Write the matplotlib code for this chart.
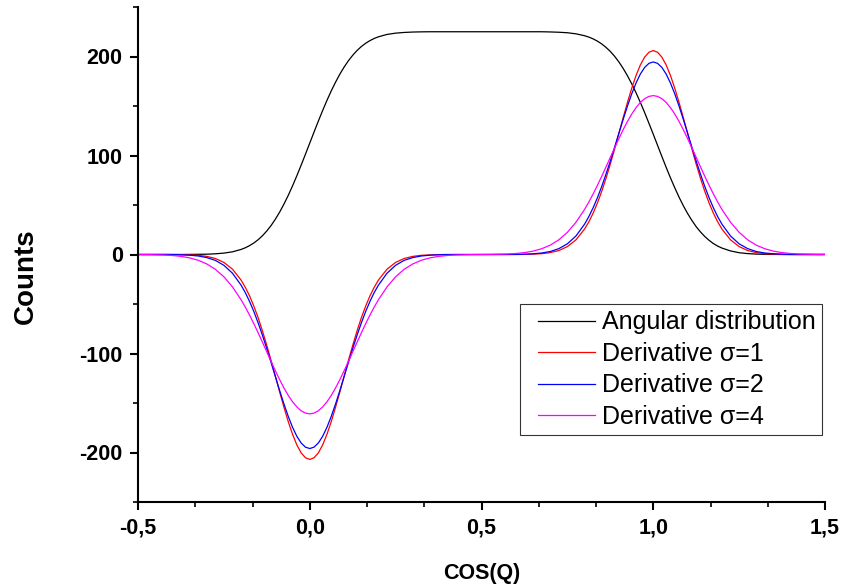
import numpy as np
import matplotlib
matplotlib.use("Agg")
import matplotlib.pyplot as plt
from matplotlib.ticker import MultipleLocator, FuncFormatter
from matplotlib.lines import Line2D
from matplotlib.legend_handler import HandlerLine2D

plt.rcParams['font.family'] = ['Liberation Sans', 'DejaVu Sans']
plt.rcParams['axes.unicode_minus'] = False

# sample positions along COS(Q): coarse outside the edges, finer across them
x = np.concatenate([
    np.linspace(-0.5, -0.225, 12),
    np.linspace(-0.2, 0.2, 33),
    np.linspace(0.225, 0.775, 23),
    np.linspace(0.8, 1.2, 33),
    np.linspace(1.225, 1.5, 12),
])

angular = [0, 0, 0, 0, 0, 0, 0.1, 0.2, 0.3, 0.7, 1.4, 2.7,
           5.1, 6.8, 9.0, 11.7, 15.0, 19.0, 23.8, 29.3, 35.7, 42.9, 51.0, 59.8,
           69.4, 79.6, 90.3, 101.3, 112.5, 123.7, 134.7, 145.4, 155.6, 165.2,
           174.0, 182.1, 189.3, 195.7, 201.2, 206.0, 210.0, 213.3, 216.0, 218.2, 219.9,
           222.3, 223.6, 224.3, 224.7, 224.9, 225, 225, 225, 225, 225, 225, 225,
           225, 225, 225, 225, 225, 225, 225, 224.8, 224.5, 224.0, 222.9,
           221.0, 219.6, 217.8, 215.5, 212.7, 209.2, 205.1, 200.2, 194.5, 187.9,
           180.5, 172.3, 163.3, 153.6, 143.3, 132.5, 121.5, 110.3, 99.1, 88.1,
           77.5, 67.5, 58.0, 49.3, 41.4, 34.4, 28.1, 22.8, 18.2, 14.3, 11.1, 8.5, 6.5,
           3.6, 1.8, 0.9, 0.4, 0.2, 0.1, 0, 0, 0, 0, 0, 0]

deriv1 = [0, 0, 0, 0, 0.0, -0.1, -0.4, -0.8, -1.9, -4.0, -8.0, -14.8,
          -25.8, -33.2, -42.0, -52.4, -64.1, -77.4, -91.8, -107.1, -123.0, -139.0,
          -154.4, -168.9, -181.7, -192.4, -200.4, -205.3, -207.0, -205.3, -200.4,
          -192.4, -181.7, -168.9, -154.4, -139.0, -123.0, -107.1, -91.8, -77.4,
          -64.1, -52.4, -42.0, -33.2, -25.8,
          -14.8, -8.0, -4.0, -1.9, -0.8, -0.4, -0.1, 0, 0, 0, 0, 0, 0, 0, 0, 0,
          0.1, 0.4, 0.8, 1.9, 4.0, 8.0, 14.8,
          25.7, 33.0, 41.8, 52.1, 63.8, 77.0, 91.3, 106.6, 122.4, 138.3, 153.7,
          168.1, 180.9, 191.5, 199.4, 204.3, 206.0, 204.3, 199.4, 191.5, 180.9,
          168.1, 153.7, 138.3, 122.4, 106.6, 91.3, 77.0, 63.8, 52.1, 41.8, 33.0, 25.7,
          14.8, 8.0, 4.0, 1.9, 0.8, 0.4, 0.1, 0, 0, 0, 0, 0]

deriv2 = [0, 0, 0, 0, -0.1, -0.3, -0.7, -1.5, -3.1, -5.9, -10.9, -18.9,
          -30.9, -38.6, -47.6, -57.8, -69.3, -81.8, -95.2, -109.2, -123.4, -137.6,
          -151.1, -163.6, -174.6, -183.7, -190.4, -194.6, -196.0, -194.6, -190.4,
          -183.7, -174.6, -163.6, -151.1, -137.6, -123.4, -109.2, -95.2, -81.8,
          -69.3, -57.8, -47.6, -38.6, -30.9,
          -18.9, -10.9, -5.9, -3.1, -1.5, -0.7, -0.3, -0.1, 0, 0, 0, 0, 0, 0, 0,
          0.1, 0.3, 0.7, 1.5, 3.0, 5.9, 10.8, 18.7,
          30.6, 38.3, 47.2, 57.4, 68.7, 81.2, 94.4, 108.4, 122.5, 136.5, 150.0,
          162.4, 173.3, 182.3, 189.0, 193.1, 194.5, 193.1, 189.0, 182.3, 173.3,
          162.4, 150.0, 136.5, 122.5, 108.4, 94.4, 81.2, 68.7, 57.4, 47.2, 38.3, 30.6,
          18.7, 10.8, 5.9, 3.0, 1.5, 0.7, 0.3, 0.1, 0, 0, 0, 0]

deriv4 = [-0.1, -0.1, -0.3, -0.5, -1.0, -1.9, -3.4, -5.8, -9.5, -14.9, -22.5, -32.7,
          -45.7, -53.2, -61.4, -70.1, -79.3, -88.8, -98.4, -108.1, -117.5, -126.5,
          -134.9, -142.4, -148.8, -154.0, -157.9, -160.2, -161.0, -160.2, -157.9,
          -154.0, -148.8, -142.4, -134.9, -126.5, -117.5, -108.1, -98.4, -88.8,
          -79.3, -70.1, -61.4, -53.2, -45.7,
          -32.7, -22.5, -14.9, -9.5, -5.8, -3.4, -1.9, -1.0, -0.5, -0.3, -0.1, 0.0,
          0.1, 0.3, 0.5, 1.0, 1.9, 3.4, 5.8, 9.4, 14.8, 22.4, 32.6,
          45.5, 53.0, 61.2, 69.9, 79.0, 88.5, 98.1, 107.7, 117.1, 126.1, 134.5,
          141.9, 148.4, 153.6, 157.4, 159.7, 160.5, 159.7, 157.4, 153.6, 148.4,
          141.9, 134.5, 126.1, 117.1, 107.7, 98.1, 88.5, 79.0, 69.9, 61.2, 53.0, 45.5,
          32.6, 22.4, 14.8, 9.4, 5.8, 3.4, 1.9, 1.0, 0.5, 0.3, 0.1, 0.1]

labels = ["Angular distribution", "Derivative σ=1", "Derivative σ=2", "Derivative σ=4"]
colors = ["#000000", "#FF0000", "#0000FF", "#FF00FF"]

fig = plt.figure(figsize=(8.41, 5.87), dpi=100)
ax = fig.add_axes([138/841, 1 - 502/587, (825-138)/841, (502-7)/587])

for ys, lab, col in zip([angular, deriv1, deriv2, deriv4], labels, colors):
    ax.plot(x, ys, color=col, lw=0.9, label=lab)

ax.set_xlim(-0.5, 1.5)
ax.set_ylim(-250, 250)
ax.spines['top'].set_visible(False)
ax.spines['right'].set_visible(False)
for s in ['left', 'bottom']:
    ax.spines[s].set_linewidth(1.5)

ax.xaxis.set_major_locator(MultipleLocator(0.5))
ax.xaxis.set_minor_locator(MultipleLocator(0.5/3))
ax.yaxis.set_major_locator(MultipleLocator(100))
ax.yaxis.set_minor_locator(MultipleLocator(50))
ax.xaxis.set_major_formatter(FuncFormatter(lambda v, p: f"{v:.1f}".replace('.', ',')))
ax.yaxis.set_major_formatter(FuncFormatter(lambda v, p: f"{v:.0f}"))
ax.tick_params(which='major', direction='out', length=6, width=1.5, labelsize=15.5, pad=5)
ax.tick_params(which='minor', direction='out', length=3.5, width=1.2)
for t in ax.get_xticklabels() + ax.get_yticklabels():
    t.set_fontweight('bold')

fig.text(482/841, 1 - 573/587, "COS(Q)", fontsize=15.5, fontweight='bold',
         ha='center', va='center')
fig.text(26/841, 1 - 276/587, "Counts", fontsize=20, fontweight='bold',
         ha='center', va='center', rotation=90)

leg = ax.legend(loc='lower right', bbox_to_anchor=((821.7-138)/687, (502-435)/495),
                fontsize=18, frameon=True, fancybox=False, borderaxespad=0,
                handlelength=2.72, handletextpad=0.28, labelspacing=0.3,
                borderpad=0.25,
                handler_map={Line2D: HandlerLine2D(xpad=0.44)})
leg.get_frame().set_edgecolor('black')
leg.get_frame().set_linewidth(0.8)

fig.savefig("out.png", dpi=100)
